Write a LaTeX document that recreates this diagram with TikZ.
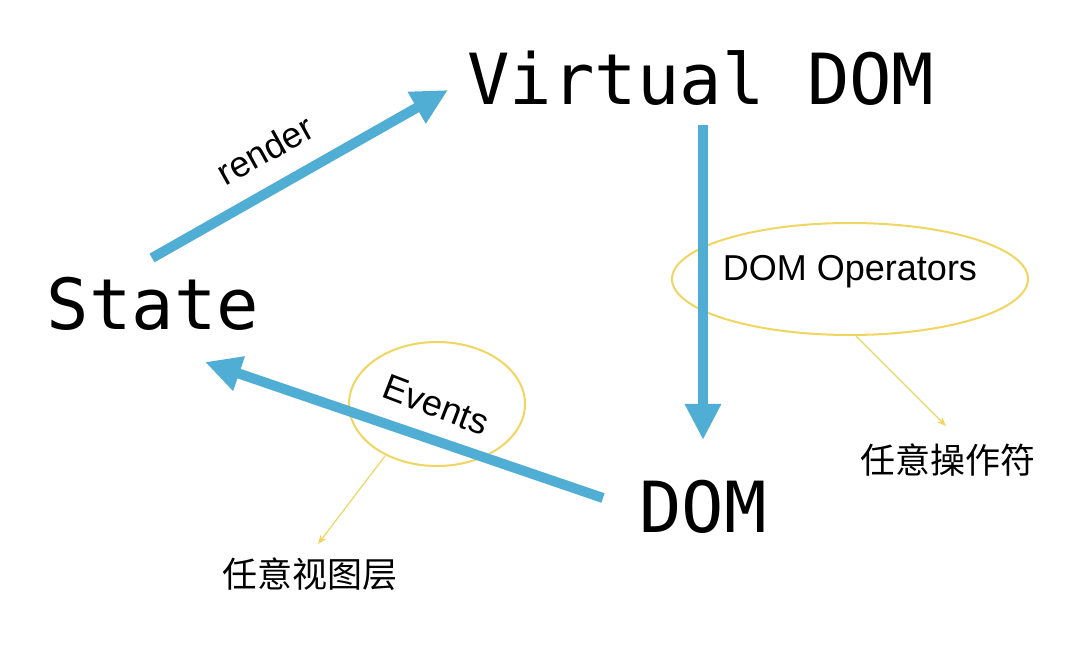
\documentclass[tikz,border=0pt]{standalone}
\usepackage{fontspec}
\setmainfont{Liberation Sans}
\setmonofont{DejaVu Sans Mono}
\newfontfamily\cjk{Noto Sans CJK SC}
\usetikzlibrary{arrows.meta}
\definecolor{flowblue}{RGB}{80,174,212}
\definecolor{noteyellow}{RGB}{240,214,96}
\tikzset{
  bigmono/.style={font=\ttfamily\fontsize{70.5}{72}\selectfont, inner sep=0pt, anchor=base},
  lbl/.style={font=\fontsize{36}{36}\selectfont, inner sep=0pt},
  cjklbl/.style={font=\cjk\fontsize{35}{35}\selectfont, inner sep=0pt},
  flow/.style={draw=flowblue, line width=10pt, -{Triangle[length=36pt,width=34pt]}},
  note/.style={draw=noteyellow, line width=2pt},
  pointer/.style={draw=noteyellow, line width=1.2pt, -{Stealth[length=9pt,width=7pt]}}
}
\begin{document}
\begin{tikzpicture}[x=1pt,y=-1pt]
\useasboundingbox[fill=white] (0,0) rectangle (1080,668);
% main texts
\node[bigmono] (vdom) at (701,105) {Virtual DOM};
\node[bigmono] (state) at (153,330) {State};
\node[bigmono] (dom) at (703,532) {DOM};
% labels
\node[lbl, rotate=29] (render) at (265,150) {render};
\node[lbl, rotate=-21] (events) at (436,405) {Events};
\node[lbl] (domop) at (850,272) {DOM Operators};
\node[cjklbl] (anyview) at (310,574) {任意视图层};
\node[cjklbl] (anyop) at (948,460) {任意操作符};
% ellipses
\draw[note] (850,279) ellipse [x radius=178, y radius=56];
\draw[note] (437,404) ellipse [x radius=88, y radius=62];
% flow arrow endpoints
\coordinate (r1) at (152,258);
\coordinate (r2) at (448,90);
\coordinate (v1) at (703,125);
\coordinate (v2) at (703,440);
\coordinate (e1) at (603,498);
\coordinate (e2) at (205,362);
\draw[flow] (r1) -- (r2);
\draw[flow] (v1) -- (v2);
\draw[flow] (e1) -- (e2);
% pointers
\coordinate (p1) at (856,336);
\coordinate (p2) at (946,426);
\coordinate (q1) at (385,456);
\coordinate (q2) at (318,544);
\draw[pointer] (p1) -- (p2);
\draw[pointer] (q1) -- (q2);
\end{tikzpicture}
\end{document}
